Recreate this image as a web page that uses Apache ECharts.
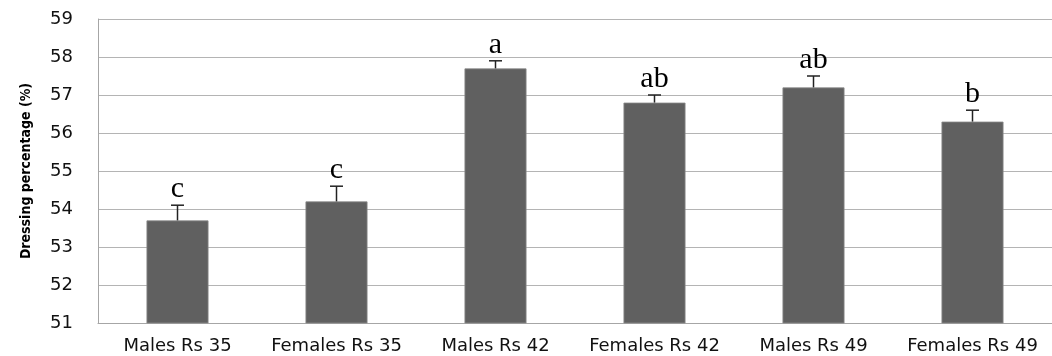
<!DOCTYPE html>
<html>
<head>
<meta charset="utf-8">
<script src="https://cdn.jsdelivr.net/npm/echarts@6/dist/echarts.min.js"></script>
<style>html,body{margin:0;padding:0;background:#fff;}#c{width:1052px;height:356px;}</style>
</head>
<body>
<div id="c"></div>
<script>
const categories = ['Males Rs 35', 'Females Rs 35', 'Males Rs 42', 'Females Rs 42', 'Males Rs 49', 'Females Rs 49'];
const means = [53.7, 54.2, 57.7, 56.8, 57.2, 56.3];
const errors = [0.4, 0.4, 0.2, 0.2, 0.3, 0.3];
const letters = ['c', 'c', 'a', 'ab', 'ab', 'b'];
const yTicks = [51, 52, 53, 54, 55, 56, 57, 58, 59];

const chart = echarts.init(document.getElementById('c'));
const errData = means.map((m, i) => [i, m, m + errors[i]]);

chart.setOption({
  animation: false,
  grid: { left: 98, top: 19, width: 957, height: 304 },
  xAxis: {
    type: 'category',
    data: categories,
    axisLine: { show: true, lineStyle: { color: '#a6a6a6', width: 1 } },
    axisTick: { show: false },
    axisLabel: { fontFamily: 'DejaVu Sans', fontSize: 18, color: '#111', margin: 14, interval: 0 }
  },
  yAxis: {
    type: 'value',
    min: yTicks[0],
    max: yTicks[yTicks.length - 1],
    interval: 1,
    name: 'Dressing percentage (%)',
    nameLocation: 'middle',
    nameGap: 65,
    nameTextStyle: { fontFamily: 'DejaVu Sans Condensed, Liberation Sans, sans-serif', fontWeight: 'bold', fontSize: 14, color: '#000' },
    axisLine: { show: true, lineStyle: { color: '#a6a6a6', width: 1 } },
    axisTick: { show: false },
    axisLabel: { fontFamily: 'DejaVu Sans', fontSize: 18, color: '#111', margin: 25 },
    splitLine: { show: true, lineStyle: { color: '#b4b4b4', width: 1 } }
  },
  series: [
    {
      type: 'bar',
      data: means,
      barWidth: '39%',
      itemStyle: { color: '#606060', borderColor: '#8a8a8a', borderWidth: 0.8 }
    },
    {
      type: 'custom',
      data: errData,
      z: 5,
      renderItem: function (params, api) {
        const x = api.coord([api.value(0), api.value(1)]);
        const top = api.coord([api.value(0), api.value(2)]);
        const half = 6.5;
        return {
          type: 'group',
          children: [
            { type: 'line', shape: { x1: x[0], y1: x[1], x2: top[0], y2: top[1] }, style: { stroke: '#222', lineWidth: 1.5 } },
            { type: 'line', shape: { x1: top[0] - half, y1: top[1], x2: top[0] + half, y2: top[1] }, style: { stroke: '#222', lineWidth: 1.5 } },
            { type: 'text', style: { text: letters[params.dataIndex], x: top[0], y: top[1] - 1, textAlign: 'center', textVerticalAlign: 'bottom', fontFamily: 'Liberation Serif', fontSize: 30, fill: '#000' } }
          ]
        };
      }
    }
  ]
});
</script>
</body>
</html>
